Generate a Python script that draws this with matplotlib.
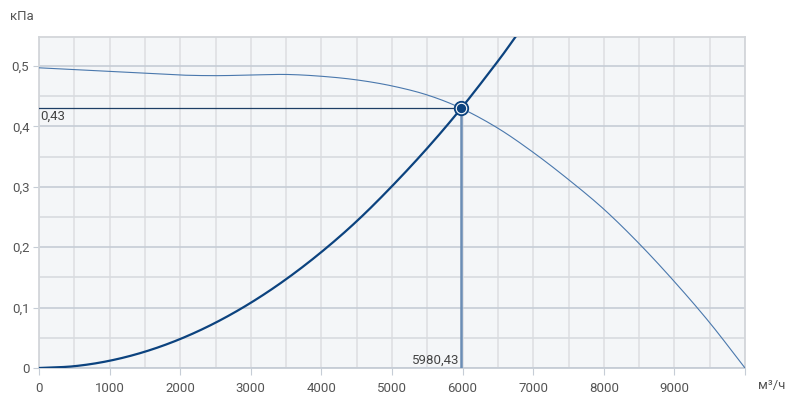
import numpy as np
import matplotlib.pyplot as plt
from matplotlib.ticker import MultipleLocator, FuncFormatter

plt.rcParams["font.family"] = ["Roboto", "DejaVu Sans"]

# fan curve (flow m3/h, pressure kPa)
fan_flow = [0, 500, 1000, 1500, 2000, 2500, 3000, 3500, 4000, 4500, 5000, 5500,
            5980.43, 6500, 7000, 7500, 8000, 8500, 9000, 9500, 10000]
fan_press = [0.497, 0.494, 0.491, 0.488, 0.485, 0.484, 0.485, 0.486, 0.483, 0.477,
             0.467, 0.452, 0.43, 0.397, 0.357, 0.312, 0.263, 0.206, 0.143, 0.075, 0.0]

# system (network) curve
sys_flow = [0, 500, 1000, 1500, 2000, 2500, 3000, 3500, 4000, 4500, 5000, 5500,
            5980.43, 6500, 6760]
sys_press = [0.0, 0.003, 0.012, 0.027, 0.048, 0.075, 0.108, 0.147, 0.192, 0.243,
             0.301, 0.364, 0.43, 0.508, 0.55]

op_flow = 5980.43
op_press = 0.43
op_flow_label = "5980,43"
op_press_label = "0,43"


def smooth(xs, ys, n=20):
    """Catmull-Rom pass through the read points, for a smooth drawn line."""
    x = np.asarray(xs, float)
    y = np.asarray(ys, float)
    px = np.concatenate([[2 * x[0] - x[1]], x, [2 * x[-1] - x[-2]]])
    py = np.concatenate([[2 * y[0] - y[1]], y, [2 * y[-1] - y[-2]]])
    t = np.linspace(0, 1, n, endpoint=False)
    outx, outy = [], []
    for i in range(1, len(px) - 2):
        for p, out in ((px, outx), (py, outy)):
            p0, p1, p2, p3 = p[i - 1], p[i], p[i + 1], p[i + 2]
            out.extend(0.5 * (2 * p1 + (-p0 + p2) * t
                              + (2 * p0 - 5 * p1 + 4 * p2 - p3) * t ** 2
                              + (-p0 + 3 * p1 - 3 * p2 + p3) * t ** 3))
    outx.append(x[-1])
    outy.append(y[-1])
    return outx, outy


fig = plt.figure(figsize=(7.94, 4.01), dpi=100)
ax = fig.add_axes([39 / 794, 1 - 368 / 401, 706 / 794, 331 / 401])
ax.set_facecolor("#f4f6f8")

ax.set_xlim(0, 10000)
ax.set_ylim(0, 0.548)

ax.xaxis.set_major_locator(MultipleLocator(1000))
ax.xaxis.set_minor_locator(MultipleLocator(500))
ax.yaxis.set_major_locator(MultipleLocator(0.1))
ax.yaxis.set_minor_locator(MultipleLocator(0.05))
ax.yaxis.set_major_formatter(FuncFormatter(lambda v, p: f"{v:.1f}".replace(".", ",") if v > 0.01 else "0"))
ax.xaxis.set_major_formatter(FuncFormatter(lambda v, p: f"{int(v)}" if v < 10000 else ""))

ax.grid(which="both", axis="x", color="#dfe0e3", lw=1.2)
ax.grid(which="major", axis="y", color="#c6cdd6", lw=1.2)
ax.grid(which="minor", axis="y", color="#d8dbdf", lw=1.2)
ax.set_axisbelow(True)

for s in ax.spines.values():
    s.set_color("#d3d6da")
    s.set_linewidth(1.3)
ax.spines["bottom"].set_color("#c6cdd6")

ax.tick_params(which="major", axis="x", length=5, color="#c6cdd6", labelsize=9.5,
               labelcolor="#555555", pad=5)
ax.tick_params(which="major", axis="y", length=4, color="#c6cdd6", labelsize=9.5,
               labelcolor="#555555", pad=3)
ax.tick_params(which="minor", length=0)

fx, fy = smooth(fan_flow, fan_press)
sx, sy = smooth(sys_flow, sys_press)
ax.plot(fx, fy, color="#4a78ad", lw=0.8, zorder=3)
ax.plot(sx, sy, color="#0c437f", lw=1.6, zorder=4)

ax.plot([0, op_flow], [op_press, op_press], color="#1e3f66", lw=0.9, zorder=3)
ax.plot([op_flow, op_flow], [0, op_press], color="#6b8db5", lw=1.8, zorder=3)

ax.plot(op_flow, op_press, "o", ms=10, mfc="#0c437f", mec="#0c437f", zorder=5)
ax.plot(op_flow, op_press, "o", ms=7.5, mfc="none", mec="white", mew=0.8, zorder=6)

ax.text(20, op_press - 0.003, op_press_label, ha="left", va="top", fontsize=9.5, color="#444444")
ax.text(op_flow - 30, 0.002, op_flow_label, ha="right", va="bottom", fontsize=9.5, color="#444444")

fig.text(10 / 794, 1 - 17 / 401, "кПа", ha="left", va="center", fontsize=9.5, color="#555555")
fig.text(758 / 794, 1 - 385 / 401, "м³/ч", ha="left", va="center", fontsize=9.5, color="#555555")

fig.savefig("out.png", dpi=100)
